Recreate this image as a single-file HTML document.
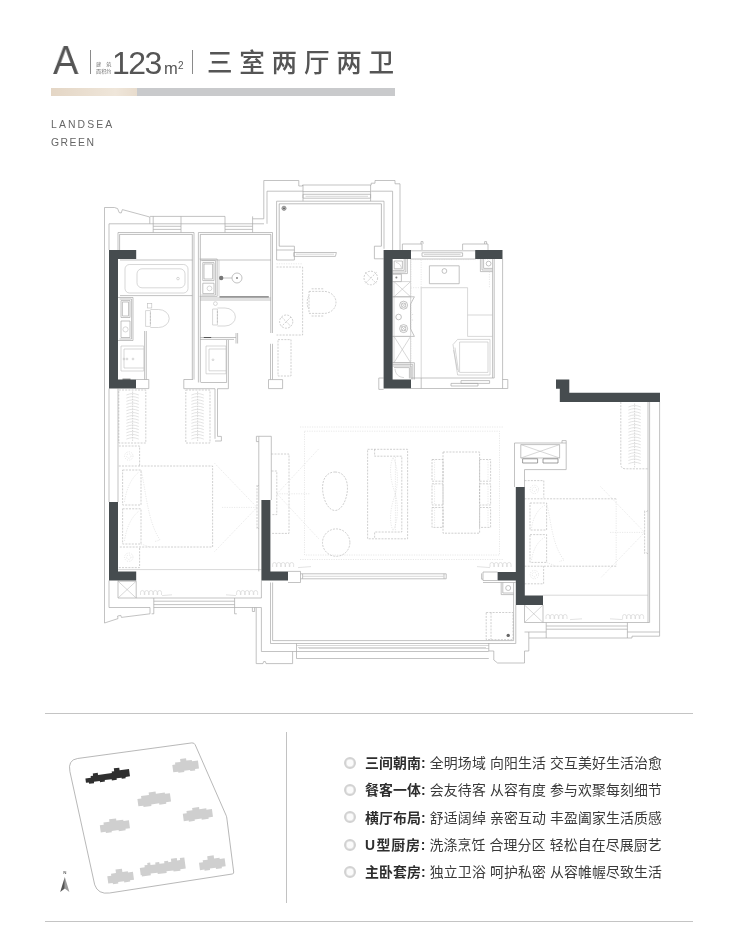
<!DOCTYPE html>
<html lang="zh-CN">
<head>
<meta charset="utf-8">
<title>A 户型 123㎡ 三室两厅两卫</title>
<style>
html,body{margin:0;padding:0;background:#fff;}
body{width:740px;height:937px;position:relative;overflow:hidden;font-family:"Liberation Sans","Noto Sans CJK SC",sans-serif;color:#555;}
.abs{position:absolute;white-space:nowrap;will-change:transform;}
#hdA{left:52.6px;top:37.3px;font-size:40px;line-height:46px;color:#555;transform:scaleX(.95);transform-origin:0 0;}
#hdS{left:96.3px;top:60.9px;font-size:5.1px;line-height:7.25px;color:#777;width:15.4px;}
#hdS span{display:block;text-align:justify;text-align-last:justify;}
#hdN{left:111.6px;top:43.8px;font-size:32px;line-height:38px;color:#555;letter-spacing:-1.6px;}
#hdM{left:163.8px;top:58.2px;font-size:16.5px;line-height:20px;color:#555;}
#hd2{left:178.3px;top:59.4px;font-size:10px;line-height:14px;color:#555;}
#hdT{left:206.8px;top:41.4px;font-size:25.6px;line-height:40px;letter-spacing:6.7px;color:#555;font-weight:500;font-family:"Noto Sans CJK SC","Liberation Sans",sans-serif;}
.vl{position:absolute;width:1px;background:#8a8a8a;top:49.5px;height:24.5px;}
#bar1{left:51px;top:88px;width:86px;height:8px;background:linear-gradient(90deg,#e4d6c5 0%,#efe6da 75%,#e8dccd 100%);}
#bar2{left:137px;top:88px;width:257.5px;height:8px;background:#c9cacc;}
#brand{left:51px;top:115.6px;font-size:10.4px;line-height:17.6px;letter-spacing:2.13px;color:#666;}
#brand span{letter-spacing:1.5px;}
.hr{position:absolute;left:45px;width:648px;height:1px;background:#c4c4c4;}
#vsep{position:absolute;left:286px;top:732px;width:1px;height:170.5px;background:#c2c2c2;}
#feat{will-change:transform;position:absolute;left:365px;top:750px;margin:0;padding:0;list-style:none;font-family:"Liberation Sans","Noto Sans CJK SC",sans-serif;}
#feat li{position:relative;height:27.35px;line-height:27.35px;font-size:13.9px;color:#3a3a3a;white-space:nowrap;letter-spacing:.13px;}
#feat li b{font-weight:700;color:#2e2e2e;}
#feat li i{position:absolute;left:-21px;top:6.8px;width:8px;height:8px;border:2px solid #d2d2d2;border-radius:50%;background:#fbfbfb;box-shadow:inset 0 0 0 .6px #e2e2e2;font-style:normal;}
#feat .u{display:inline-block;width:11.5px;text-align:left;}
#feat .j{letter-spacing:.85px;}
svg{position:absolute;left:0;top:0;}
</style>
</head>
<body>
<div class="abs" id="hdA">A</div>
<div class="vl" style="left:90.3px"></div>
<div class="abs" id="hdS"><span>建筑</span><span>面积约</span></div>
<div class="abs" id="hdN">123</div>
<div class="abs" id="hdM">m</div>
<div class="abs" id="hd2">2</div>
<div class="vl" style="left:192.3px"></div>
<div class="abs" id="hdT">三室两厅两卫</div>
<div class="abs" id="bar1"></div>
<div class="abs" id="bar2"></div>
<div class="abs" id="brand">LANDSEA<br><span>GREEN</span></div>

<svg id="plan" width="740" height="937" viewBox="0 0 740 937">
<style>
.w{fill:#464c4f;stroke:none}
.l{stroke:#a9a9a9;stroke-width:.7;fill:none}
.m{stroke:#bdbdbd;stroke-width:.6;fill:none}
.d{stroke:#a9a9a9;stroke-width:.55;fill:none;stroke-dasharray:2 1.2}
.f{stroke:#d2d2d2;stroke-width:.5;fill:none;stroke-dasharray:1.2 1.2}
.k{stroke:#555;stroke-width:1;fill:none}
.n{stroke:#8f8f8f;stroke-width:.6;fill:none}
.c{stroke:#cbcbcb;stroke-width:.55;fill:none}
.r{stroke:#c0c0c0;stroke-width:.6;fill:none;stroke-dasharray:1.4 1}
</style>
<!-- exterior top-left -->
<path class="l" d="M104.5 623V207.5H114.5L117.6 208.6L119.2 212.6L121.2 213L122.4 209.6L149.8 217V223.8"/>
<path class="l" d="M109 250V223.8H264M150 216.4H225M118 250V232.5"/>
<path class="l" d="M153.2 216.4V232.5M181 216.4V232.5M153.2 226.3H181M153.2 229.4H181M225 216.4V232.5M252.6 216.4V232.5M225 226.3H252.6M225 229.4H252.6"/>
<path class="l" d="M252.6 218.8H263.8V180.5H298.8V186H302.5V185H371.2V183.2H375V180.5H395V183.8H400V250"/>
<path class="l" d="M267 223.8V191.2H303M371.2 191.2H392.6V250"/>
<path class="l" d="M303 194.3H370.6V198.2H303ZM303 185V201.2M370.6 185V201.2M303 191.6H370.6"/>
<!-- study bay -->
<path class="l" d="M276.6 260V201.2H384V248.8"/>
<path class="n" d="M279.2 246.2V203.8H381.4V246.2"/>
<path class="m" d="M305.5 196.3H368"/>
<circle cx="284" cy="208.3" r="2.1" fill="#bbb" stroke="#666" stroke-width=".6"/><circle cx="284" cy="208.3" r=".9" fill="#555" stroke="none"/>
<path class="l" d="M279.2 246.2H294.4M276.6 250H294.4M294.4 246.2V260H276.6M293.8 252.5H336.4L335.4 256.4H293.8ZM374.4 246.2H381.4M374.4 246.2V258.8H383.6"/>
<path class="m" d="M296 254.2H334"/>
<!-- bath 1 -->
<path class="l" d="M118 232.5H194V379.5M120 260H192.3M120 295.6H192.3"/>
<path class="n" d="M119.6 250V234.4H192.3V379.5"/>
<rect class="m" x="125" y="264.5" width="63" height="28.5" rx="4.5"/>
<rect class="m" x="137" y="268.8" width="48" height="19" rx="5"/>
<circle class="m" cx="178" cy="278.6" r="1.3"/>
<path class="l" d="M118 297.5H133V340.5H118M119.6 299H131.6V339H119.6M121 300.6H130V317.5H121ZM121 321H130V337.5H121ZM122.4 302H128.6V316H122.4Z"/>
<circle class="m" cx="125.5" cy="329.4" r="2.6"/>
<path class="m" d="M145.6 310.6H150.4V326.4H145.6ZM150.4 309.5H158.6A10.6 9 0 0 1 158.6 327.5H150.4"/>
<path class="d" d="M150.4 312.5V324.5"/>
<rect class="m" x="147.4" y="303.6" width="4.4" height="4.4"/>
<path class="l" d="M144.6 331V379.5M146.3 331V379.5"/>
<path class="m" d="M121 346H143.8V371H121ZM124 349H143.8M124 349V368H143.8"/>
<circle class="m" cx="124" cy="359" r=".9"/><circle class="m" cx="127" cy="359" r=".9"/><circle class="m" cx="133" cy="359" r=".9"/>
<path class="l" d="M136 379.5H148.8V388.6H136"/>
<path class="k" d="M122.5 379.2H130.5" stroke-width="1.2"/>
<!-- bath 2 -->
<path class="l" d="M198.4 382.5V232.5H272.5V333M200.3 260H270.8M200.3 298H270.8M200.3 300H270.8"/>
<path class="n" d="M200.3 382.5V234.4H270.8V333"/>
<path class="l" d="M199.6 259H217.2V296.4H199.6M201.4 260.6H215.6V295H201.4M202.8 262.6H214V280.6H202.8ZM204 264H212.6V279H204ZM202.8 283.2H214V293.6H202.8Z"/>
<circle class="m" cx="209.5" cy="288.4" r="2.4"/>
<path class="m" d="M219 260V296.4"/>
<circle class="l" cx="237" cy="278" r="5"/><circle cx="237" cy="278" r=".9" fill="#777"/>
<path class="l" d="M222.5 278H232"/>
<circle cx="221.2" cy="278" r="2.2" fill="#777"/>
<path class="k" d="M219.5 296.9H268.8" stroke-width="1.1"/>
<path class="m" d="M212.6 309H217.4V325H212.6ZM217.4 308H225A10.4 9 0 0 1 225 326H217.4"/>
<path class="d" d="M217.4 311V323"/>
<circle class="m" cx="215.4" cy="303.6" r="1.9"/>
<path class="l" d="M200 337.5H236M236 333V343.5M237.6 333V343.5M200 339.4H234"/>
<path class="k" d="M203.8 337.5H211.2" stroke-width="1.4"/>
<path class="l" d="M226.6 340V382.5M228.4 340V388.7M270.5 343.8V379.6M272.5 343.8V379.6M268.5 379.6H282.6V388.6H268.5Z"/>
<path class="m" d="M206 346H226V373.8H206ZM209 349H226M209 349V370.8H226"/>
<circle class="m" cx="213" cy="359.8" r=".9"/>
<path class="l" d="M183.8 379.5H193M183.8 379.5V388.7H215M201 382.5H226.6M217.5 388.7H228.4M215 388.7V438.8M217.5 388.7V436.4H221.4V441H215"/>
<!-- study furniture -->
<path class="d" d="M276.5 267H302.6V335H276.5M278 339.6H291V376H278Z"/>
<path class="f" d="M276.5 263.8H302"/>
<g class="d"><circle cx="286.2" cy="321.6" r="6.6"/><path d="M281.5 317L291 326.4M291 317L281.5 326.4"/></g>
<g class="d"><circle cx="370.8" cy="278" r="6.8"/><path d="M365 272.3L376.6 283.7M376.6 272.3L365 283.7"/></g>
<path class="d" d="M309 291.4H324A12 11 0 0 1 324 313.4H309ZM311.6 288.8H323.6M311.6 316H323.6M309 296C306.6 298 306.6 307 309 309"/>
<path class="l" d="M378.8 378H383.6M378.8 378V389.4H383.6"/>
<!-- left bedroom -->
<path class="l" d="M109 388.6V502M118 388.6V502M118 580.5V598H261.4M109 580.5V607.5H150V613.8L121.4 617.4L120.8 615.4L117.6 616L118 618.6L104.5 623"/>
<path class="d" d="M118.8 390H145.8V443H118.8ZM185.8 390H210V443H185.8Z"/>
<path class="r" d="M132.6 391.5V441.5M197.6 391.5V441.5"/>
<path class="c" d="M126.4 395.0Q129.5 393.7 132.6 393.5Q135.7 393.7 138.8 395.0M126.4 398.1Q129.5 396.8 132.6 396.6Q135.7 396.8 138.8 398.1M126.4 401.3Q129.5 400.0 132.6 399.8Q135.7 400.0 138.8 401.3M126.4 404.4Q129.5 403.1 132.6 402.9Q135.7 403.1 138.8 404.4M126.4 407.6Q129.5 406.3 132.6 406.1Q135.7 406.3 138.8 407.6M126.4 410.7Q129.5 409.4 132.6 409.2Q135.7 409.4 138.8 410.7M126.4 413.9Q129.5 412.6 132.6 412.4Q135.7 412.6 138.8 413.9M126.4 417.0Q129.5 415.7 132.6 415.5Q135.7 415.7 138.8 417.0M126.4 420.2Q129.5 418.9 132.6 418.7Q135.7 418.9 138.8 420.2M126.4 423.3Q129.5 422.0 132.6 421.8Q135.7 422.0 138.8 423.3M126.4 426.5Q129.5 425.2 132.6 425.0Q135.7 425.2 138.8 426.5M126.4 429.6Q129.5 428.3 132.6 428.1Q135.7 428.3 138.8 429.6M126.4 432.8Q129.5 431.5 132.6 431.3Q135.7 431.5 138.8 432.8M126.4 435.9Q129.5 434.6 132.6 434.4Q135.7 434.6 138.8 435.9M126.4 439.1Q129.5 437.8 132.6 437.6Q135.7 437.8 138.8 439.1M191.4 395.0Q194.5 393.7 197.6 393.5Q200.7 393.7 203.8 395.0M191.4 398.1Q194.5 396.8 197.6 396.6Q200.7 396.8 203.8 398.1M191.4 401.3Q194.5 400.0 197.6 399.8Q200.7 400.0 203.8 401.3M191.4 404.4Q194.5 403.1 197.6 402.9Q200.7 403.1 203.8 404.4M191.4 407.6Q194.5 406.3 197.6 406.1Q200.7 406.3 203.8 407.6M191.4 410.7Q194.5 409.4 197.6 409.2Q200.7 409.4 203.8 410.7M191.4 413.9Q194.5 412.6 197.6 412.4Q200.7 412.6 203.8 413.9M191.4 417.0Q194.5 415.7 197.6 415.5Q200.7 415.7 203.8 417.0M191.4 420.2Q194.5 418.9 197.6 418.7Q200.7 418.9 203.8 420.2M191.4 423.3Q194.5 422.0 197.6 421.8Q200.7 422.0 203.8 423.3M191.4 426.5Q194.5 425.2 197.6 425.0Q200.7 425.2 203.8 426.5M191.4 429.6Q194.5 428.3 197.6 428.1Q200.7 428.3 203.8 429.6M191.4 432.8Q194.5 431.5 197.6 431.3Q200.7 431.5 203.8 432.8M191.4 435.9Q194.5 434.6 197.6 434.4Q200.7 434.6 203.8 435.9M191.4 439.1Q194.5 437.8 197.6 437.6Q200.7 437.8 203.8 439.1"/>
<path class="d" d="M118.8 446H139.6V466M118.8 466H212.6V547H118.8M118.8 567.6H139.6V547"/>
<g class="f"><circle cx="128.8" cy="456" r="4.2"/><circle cx="128.8" cy="456" r="2.2"/><circle cx="128.8" cy="557.2" r="4.2"/><circle cx="128.8" cy="557.2" r="2.2"/></g>
<path class="d" d="M122.6 470H141V505H122.6ZM122.6 508.8H141V544H122.6Z"/>
<path class="f" d="M124.5 502C126 490 131 478 139 472M124.5 541C126 529 131 517 139 511M141 470C146 490 147 520 160 540L154.5 541.6M141 544L150 547"/>
<path class="m" d="M118 569.6H261.4"/>
<path class="l" d="M118 581.2H136.2V598"/>
<path class="m" d="M118 581.2L136.2 598M136.2 581.2L118 598"/>
<path class="c" d="M140.5 595.0V592.4A1.9 1.9 0 0 1 144.3 592.4V595.0M144.8 595.0V592.4A1.9 1.9 0 0 1 148.6 592.4V595.0M149.1 595.0V592.4A1.9 1.9 0 0 1 152.9 592.4V595.0M153.4 595.0V592.4A1.9 1.9 0 0 1 157.2 592.4V595.0M157.7 595.0V592.4A1.9 1.9 0 0 1 161.5 592.4V595.0M162 595.6L172 594.8M236.6 595.0V592.4A1.9 1.9 0 0 1 240.4 592.4V595.0M240.9 595.0V592.4A1.9 1.9 0 0 1 244.7 592.4V595.0M245.2 595.0V592.4A1.9 1.9 0 0 1 249.0 592.4V595.0M249.5 595.0V592.4A1.9 1.9 0 0 1 253.3 592.4V595.0M253.8 595.0V592.4A1.9 1.9 0 0 1 257.6 592.4V595.0M236 595.6L226 594.8"/>
<path class="l" d="M153.8 598V613.8M234.6 598V613.8M153.8 601.2H234.6M153.8 604.6H234.6M153.8 607.5H234.6M151.6 613.8H153.8M234.6 613.8H236.8"/>
<path class="l" d="M234.6 607.5H261.4M256.2 607.5V663.6H263L263.6 661.6H265.4L266 663.6H292.6V651.5M252.4 607.5V611.5H254.6V607.5"/>
<!-- bedroom / living wall -->
<path class="l" d="M258.8 571.4V436.3H271.3V500M256.4 436.3H258.8M256.4 436.3V441.6H258.8"/>
<path class="d" d="M257 485V528.8M258.8 485L257 487M258.8 528.8L257 526.8"/>
<path class="f" d="M257 507.4L213.8 462.4M257 507.4L213.8 552.4M222 507.4H257"/>
<path class="d" d="M271.3 454H289V533.4H271.3M271.6 471H276.8V514.6H271.6"/>
<path class="f" d="M277 493.8L318.8 448.8M277 493.8L318.8 538.8M277 493.8H310"/>
<!-- living room -->
<path class="f" d="M300 427H503.8M300 559.5H503.8"/>
<rect class="f" x="304.5" y="431.2" width="195" height="123.8"/>
<path class="d" d="M335 472C344 472 348 480 347.4 490C346.8 500 341.6 510.5 335 510.5C328.4 510.5 323 500 322.6 489C322.2 478.6 327 472 335 472Z"/>
<circle class="d" cx="336.2" cy="542.6" r="13.7"/>
<path class="d" d="M367.6 449.3H407.6V538.8H367.6ZM374.6 449.3V456.2H401.8V532H374.6V538.8"/>
<path class="f" d="M395.4 494C390 480 389 466 393 457.5C398 466 398.6 482 395.4 494ZM395.4 494C390 508 389 522 393 530.5C398 522 398.6 506 395.4 494ZM395.4 457V531"/>
<path class="d" d="M443 452H479.6V533.2H443ZM432 459.5H443V481.2H432ZM432 483.8H443V505H432ZM432 507.5H443V527.4H432ZM479.6 459.5H490.6V481.2H479.6ZM479.6 483.8H490.6V505H479.6ZM479.6 507.5H490.6V527.4H479.6Z"/>
<path class="f" d="M434.6 459.5V481.2M434.6 483.8V505M434.6 507.5V527.4M488 459.5V481.2M488 483.8V505M488 507.5V527.4"/>
<path class="l" d="M288 571.4H300.5V582.5H288M300.5 573.8H446.2V578.8H300.5M302.6 573.8V578.8M444 573.8V578.8"/>
<path class="m" d="M303 576.3H443.6"/>
<path class="c" d="M272.6 567.0V564.4A1.9 1.9 0 0 1 276.4 564.4V567.0M276.9 567.0V564.4A1.9 1.9 0 0 1 280.7 564.4V567.0M281.2 567.0V564.4A1.9 1.9 0 0 1 285.0 564.4V567.0M285.5 567.0V564.4A1.9 1.9 0 0 1 289.3 564.4V567.0M289.8 567.0V564.4A1.9 1.9 0 0 1 293.6 564.4V567.0M298 567.6L311 566.6"/>
<path class="c" d="M490.0 567.0V564.4A1.9 1.9 0 0 1 493.8 564.4V567.0M494.3 567.0V564.4A1.9 1.9 0 0 1 498.1 564.4V567.0M498.6 567.0V564.4A1.9 1.9 0 0 1 502.4 564.4V567.0M502.9 567.0V564.4A1.9 1.9 0 0 1 506.7 564.4V567.0M507.2 567.0V564.4A1.9 1.9 0 0 1 511.0 564.4V567.0M490 567.6L477 566.6"/>
<!-- kitchen -->
<path class="l" d="M411 250.8H475.2M411 259H475.2M422 252.8H462.6V256.3H422ZM402.4 250V244H422V250M462.6 250V244H488V250M421 244V241.6H423V244M484.6 244V241.6H486.6V244"/>
<path class="m" d="M424 254.5H460.6"/>
<path class="l" d="M492.6 259V378M494.2 259V378M502.6 259V388.5M411 378H494.2M411 388.5H507.8V379.5H502.6M421.2 378V388.5"/>
<path class="l" d="M480.4 259V271.6H492.6M482 259V270H492.6M483.6 259V268.4H492.6"/>
<circle class="l" cx="488.6" cy="263.6" r="2.4"/>
<path class="m" d="M421.2 378V287.7H467.6V336.4H492.6M467.6 315H492.6M410.6 259V378"/>
<path class="f" d="M421.2 259.6V287.7M410.6 287.7H421.2M489.4 271.6V287.7"/>
<path class="l" d="M429.4 265.8H459.2V283.7H429.4Z"/>
<circle class="l" cx="444.4" cy="271" r="2.4"/>
<path class="l" d="M392.6 273.6H407.4V259M392.6 272H405.8V259M392.6 270.4H404.2V259M394.2 261H402.4V268.8H394.2Z"/>
<path class="m" d="M396 262.4C399 263 401 265 401.4 268"/>
<path class="l" d="M392.6 274.2H401.4V281.6H392.6"/>
<circle cx="396.4" cy="277.4" r="1" fill="#888"/>
<path class="m" d="M392.6 281.6H410.6M392.6 296.8H410.6M394 281.6L410.6 296.8M410.6 281.6L394 296.8M394 281.6V362.7"/>
<path class="l" d="M392.6 296.8H414.4L410.6 304V329L414.4 336.4H392.6"/>
<g class="l"><circle cx="403.6" cy="305.2" r="4"/><circle cx="403.6" cy="305.2" r="2.2"/><circle cx="403.6" cy="328.6" r="4"/><circle cx="403.6" cy="328.6" r="2.2"/><circle cx="398.6" cy="317" r="2.8"/></g>
<path class="m" d="M400.6 302.2L406.6 308.2M406.6 302.2L400.6 308.2M400.6 325.6L406.6 331.6M406.6 325.6L400.6 331.6M412.6 314V314.8M412.6 319.6V320.4"/>
<path class="m" d="M392.6 336.4H410.6M392.6 362.7H410.6M394 336.4L410.6 362.7M410.6 336.4L394 362.7"/>
<path class="l" d="M392.6 362.7H414.4V379.5M392.6 364.4H412.8V379.5M392.6 366H411.2V379.5M394 367.6H409.4V378.4"/>
<path class="m" d="M395 369C395.6 374 398 377 404 377.6"/>
<path class="m" d="M457.6 339.4H490V375H457.6L453 344.6L457.6 339.4M459.6 342H488V372.4H459.6ZM455 347.6L458.6 372M453.6 350L457.4 370"/>
<path class="l" d="M461 380.6H489.6V383.4H461ZM451 383.4H478V386H451Z"/>
<path class="f" d="M411 378V259.6H492.6"/>
<!-- duct + right bedroom -->
<path class="l" d="M514.5 487V443H566.2V469.6H524.5V487M520.8 444.6H559.6V458H520.8ZM562 443V440.6H566.2V443"/>
<path class="m" d="M520.8 444.6L559.6 458M559.6 444.6L520.8 458"/>
<path class="l" stroke="#666" d="M522.6 458.8H537.6V463H522.6ZM543 458.8H558V463H543Z" style="stroke:#777"/>
<path class="l" d="M648 402V622.5M649.6 402V622.5M659.6 402V632"/>
<path class="d" d="M620.8 402V464Q620.8 468.8 625.6 468.8H648"/>
<path class="r" d="M634.6 403.5V467.5"/>
<path class="c" d="M628.4 407.0Q631.5 405.7 634.6 405.5Q637.7 405.7 640.8 407.0M628.4 410.1Q631.5 408.8 634.6 408.6Q637.7 408.8 640.8 410.1M628.4 413.3Q631.5 412.0 634.6 411.8Q637.7 412.0 640.8 413.3M628.4 416.4Q631.5 415.1 634.6 414.9Q637.7 415.1 640.8 416.4M628.4 419.6Q631.5 418.3 634.6 418.1Q637.7 418.3 640.8 419.6M628.4 422.7Q631.5 421.4 634.6 421.2Q637.7 421.4 640.8 422.7M628.4 425.9Q631.5 424.6 634.6 424.4Q637.7 424.6 640.8 425.9M628.4 429.0Q631.5 427.7 634.6 427.5Q637.7 427.7 640.8 429.0M628.4 432.2Q631.5 430.9 634.6 430.7Q637.7 430.9 640.8 432.2M628.4 435.3Q631.5 434.0 634.6 433.8Q637.7 434.0 640.8 435.3M628.4 438.5Q631.5 437.2 634.6 437.0Q637.7 437.2 640.8 438.5M628.4 441.6Q631.5 440.3 634.6 440.1Q637.7 440.3 640.8 441.6M628.4 444.8Q631.5 443.5 634.6 443.3Q637.7 443.5 640.8 444.8M628.4 447.9Q631.5 446.6 634.6 446.4Q637.7 446.6 640.8 447.9M628.4 451.1Q631.5 449.8 634.6 449.6Q637.7 449.8 640.8 451.1M628.4 454.2Q631.5 452.9 634.6 452.7Q637.7 452.9 640.8 454.2M628.4 457.4Q631.5 456.1 634.6 455.9Q637.7 456.1 640.8 457.4M628.4 460.5Q631.5 459.2 634.6 459.0Q637.7 459.2 640.8 460.5M628.4 463.7Q631.5 462.4 634.6 462.2Q637.7 462.4 640.8 463.7"/>
<path class="d" d="M524.5 480.6H543.8V497.6M524.5 498.8H616.2M543.8 566.2H616.2M524.5 583.8H543.6V566.2M524.5 566.2H543.8"/>
<path class="f" d="M616.2 498.8V566.2"/>
<g class="f"><circle cx="534.4" cy="489.4" r="4.2"/><circle cx="534.4" cy="489.4" r="2.2"/><circle cx="534.4" cy="574.6" r="4.2"/><circle cx="534.4" cy="574.6" r="2.2"/></g>
<path class="d" d="M530 503H546.6V530H530ZM530 534.6H546.6V562.4H530Z"/>
<path class="f" d="M531.6 528C533 518 537 510 545 505M531.6 560C533 550 537 542 545 537M546.6 503C551 520 552 545 564 560L559 561.6M546.6 562.4L556 566.2"/>
<path class="m" d="M543 595.2H648"/>
<path class="l" d="M524.5 605V622.5H649.6M543 605V622.5"/>
<path class="m" d="M524.5 605L543 622.5M543 605L524.5 622.5"/>
<path class="c" d="M546.0 619.0V616.4A1.9 1.9 0 0 1 549.8 616.4V619.0M550.3 619.0V616.4A1.9 1.9 0 0 1 554.1 616.4V619.0M554.6 619.0V616.4A1.9 1.9 0 0 1 558.4 616.4V619.0M558.9 619.0V616.4A1.9 1.9 0 0 1 562.7 616.4V619.0M563.2 619.0V616.4A1.9 1.9 0 0 1 567.0 616.4V619.0M570 619.6L582 618.8M622.6 619.0V616.4A1.9 1.9 0 0 1 626.4 616.4V619.0M626.9 619.0V616.4A1.9 1.9 0 0 1 630.7 616.4V619.0M631.2 619.0V616.4A1.9 1.9 0 0 1 635.0 616.4V619.0M635.5 619.0V616.4A1.9 1.9 0 0 1 639.3 616.4V619.0M639.8 619.0V616.4A1.9 1.9 0 0 1 643.6 616.4V619.0M622.6 619.6L610 618.8"/>
<path class="d" d="M644.6 510.6V553.8M648 510.6L644.6 512.6M648 553.8L644.6 551.8"/>
<path class="f" d="M644.6 532.4L600 486M644.6 532.4L601 577.6M610 532.4H644.6"/>
<path class="l" d="M546.2 622.5V638M627.4 622.5V638M546.2 626H627.4M546.2 629.2H627.4M529 638H632V636.2H659.6M627.4 632H659.6V636.2M524.5 632H546.2"/>
<!-- balcony -->
<path class="l" d="M270.5 582.5V643.5M272.6 582.5V640.6M272.6 640.6H513.6M270.5 643.5H515.8M513.6 582.5V640.6M515.8 605V643.5"/>
<path class="l" d="M261.4 580.5V598M261.4 607.5V651.5H296.5M296.5 643.5V658.5M296.5 651.5H488.8M296.5 658.5H488.8"/>
<path class="m" d="M296.5 645.5H488.8M299 648.5H488.8"/>
<path class="m" d="M298 647.5H486"/>
<path class="l" d="M483 572H497.6M483 580.5H497.6M483 572V580.5M483 582.5H515.7M481.6 573.4V579.2H483"/>
<path class="l" d="M501.2 582.5V594.6H513.8M502.8 582.5V593H513.8"/>
<circle class="l" cx="508.2" cy="588" r="2.5"/>
<path class="d" d="M486.2 612.5H513V639.6H486.2ZM491 612.5V639.6"/>
<circle cx="508.2" cy="635.4" r="1.7" fill="#666"/>
<path class="l" d="M488.8 643V651H493.8V660L497.6 663H524.5V651H528.8V632"/>
<!--THIN4-->
<!--WALLS-->
<g class="w">
<path d="M109 250H136.2V259H118V379.5H136V388.6H109Z"/>
<path d="M109 502H118V571.4H136.2V580.5H109Z"/>
<path d="M261.4 500H270.4V571.4H288V580.5H261.4Z"/>
<path d="M383.6 250H411V259H392.6V379.5H411V388.5H383.6Z"/>
<rect x="475.2" y="250" width="27.3" height="9"/>
<path d="M556 379.6H569.3V392.8H660V402H559.8V388.8H556Z"/>
<path d="M515.8 487H524.8V595.6H543V605H515.8V580.5H497.6V572H515.8Z"/>
</g>
</svg>

<div class="hr" style="top:713px"></div>
<div class="hr" style="top:921px"></div>
<div id="vsep"></div>

<svg id="site" width="740" height="937" viewBox="0 0 740 937">
<path d="M77.5 758.5L191.8 742.9Q194.2 742.6 195.2 744.8L226.2 815.6Q226.6 816.6 226.8 818L233.7 872Q233.9 873.8 232.2 874L109.5 893Q98 894.6 94.7 884.8L69.9 771.5Q67.6 760 77.5 758.5Z" fill="none" stroke="#9a9a9a" stroke-width=".7"/>
<g fill="#2f2f2f" transform="translate(85.4 778.6) rotate(-7.6)">
<path d="M0 0H5.5V-1.8H8V-4.2H13V-2H27V-3.6H29.5V-6.4H35V-3.8H44.5V3.6H40V5H36V3.9H31V5.3H26V4H19V5.5H14V4.2H8V5.7H3V4.3H0Z"/>
</g>
<g fill="#cfcfcf">
<path transform="translate(172.3 765) rotate(-7.6)" d="M0 0H3V-2H8.5V-5H14.5V-2.5H20V-1H26V7H22V8.4H17V7.2H11V8.6H5V7.4H0Z"/>
<path transform="translate(137.4 799) rotate(-7.6)" d="M0 0H4V-2.5H12V-5H19V-2.8H28V-1.5H33V7H28V8.5H21V7.2H13V8.8H5V7.4H0Z"/>
<path transform="translate(182.8 813.8) rotate(-7.6)" d="M0 0H4V-2.2H10V-4.6H17V-2.4H24V-1H29.5V7H25V8.4H18V7.2H11V8.6H5V7.4H0Z"/>
<path transform="translate(99.8 825.2) rotate(-7.6)" d="M0 0H4V-2.2H10V-4.6H17V-2.4H24V-1H29.5V7H25V8.4H18V7.2H11V8.6H5V7.4H0Z"/>
<path transform="translate(107.3 876.2) rotate(-7.6)" d="M0 0H4V-2H9V-5.5H15.5V-2.2H21V-1H26V7H22V8.4H16V7.2H10V8.6H4.5V7.4H0Z"/>
<path transform="translate(139.8 868) rotate(-7.6)" d="M0 0H5V-2H8V-4H11V-1.5H16V-3.5H20V-1.5H25V-3.5H29V-2H32V-5H38V-2.5H41V-4.5H45.5V6.5H40V8H33V6.8H26V8.4H17V7H10V8.6H1V7.2H0Z"/>
<path transform="translate(199 862.8) rotate(-7.6)" d="M0 0H4V-2H9V-5.5H15.5V-2.2H21V-1H26V7H22V8.4H16V7.2H10V8.6H4.5V7.4H0Z"/>
</g>
<path d="M64.8 877L60.2 892L64.8 888.6Z" fill="#555"/>
<path d="M64.8 877L69.4 892L64.8 888.6Z" fill="#9c9c9c"/>
<text x="64.8" y="873.6" font-family="Liberation Sans, sans-serif" font-size="4.4" font-weight="700" fill="#6a6a6a" text-anchor="middle">N</text>
</svg>

<ul id="feat">
<li><i></i><b>三间朝南:</b> 全明场域 向阳生活 交互美好生活治愈</li>
<li><i></i><b>餐客一体:</b> 会友待客 从容有度 参与欢聚每刻细节</li>
<li><i></i><b>横厅布局:</b> 舒适阔绰 亲密互动 丰盈阖家生活质感</li>
<li><i></i><b><span class="u">U</span><span class="j">型厨房</span>:</b> 洗涤烹饪 合理分区 轻松自在尽展厨艺</li>
<li><i></i><b>主卧套房:</b> 独立卫浴 呵护私密 从容帷幄尽致生活</li>
</ul>
</body>
</html>
